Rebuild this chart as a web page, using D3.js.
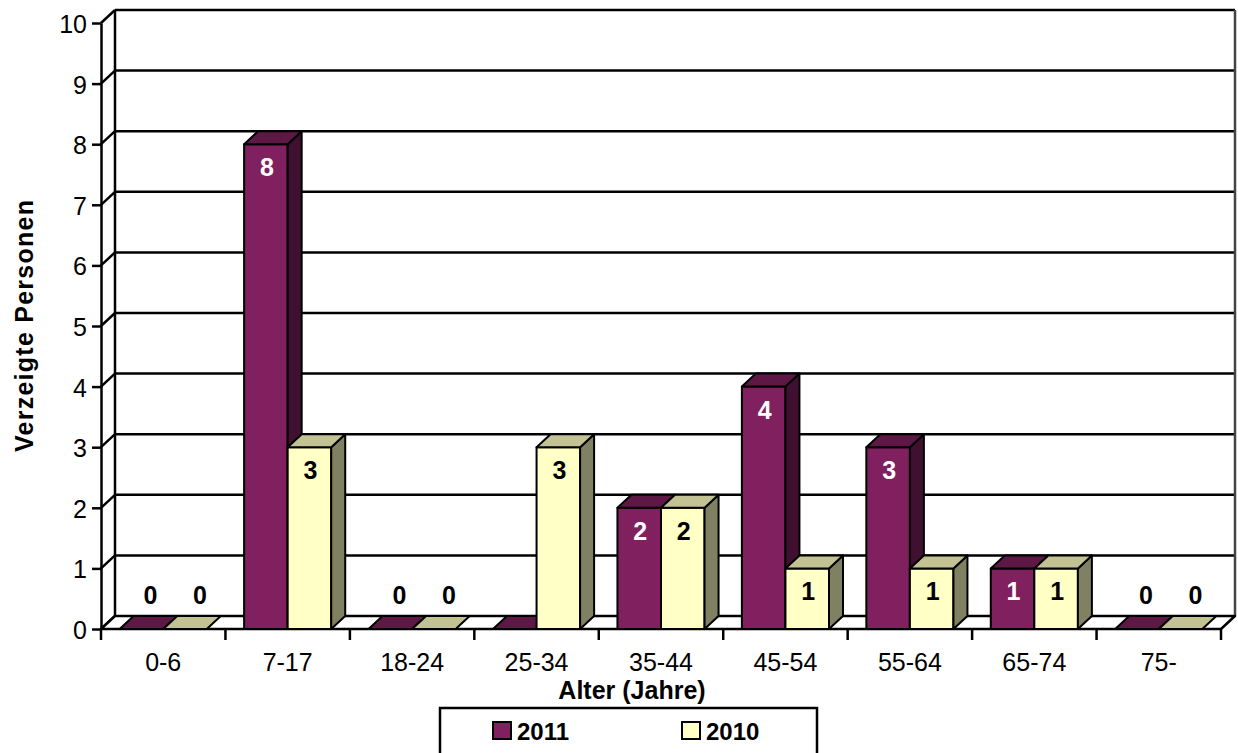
<!DOCTYPE html>
<html><head><meta charset="utf-8">
<script src="https://cdn.jsdelivr.net/npm/d3@7"></script>
<style>body{margin:0;background:#fff} svg{display:block;font-family:"Liberation Sans",Arial,sans-serif}</style>
</head><body><svg id="c" width="1238" height="753"></svg>
<script>
const categories = ["0-6","7-17","18-24","25-34","35-44","45-54","55-64","65-74","75-"];
const values2011 = [0,8,0,null,2,4,3,1,0];
const values2010 = [0,3,0,3,2,1,1,1,0];
const seriesNames = ["2011","2010"];
const yTicks = [0,1,2,3,4,5,6,7,8,9,10];
const xTitle = "Alter (Jahre)";
const yTitle = "Verzeigte Personen";

const seriesValues = [values2011, values2010];
const colors = [
  {front:"#80205F", top:"#5E1846", side:"#3F1030", label:"#fff"},
  {front:"#FFFFC6", top:"#C2C294", side:"#808062", label:"#000"}
];
const zeroShift = [9, 15];

const svg = d3.select("#c");
svg.append("rect").attr("width",1238).attr("height",753).attr("fill","#fff");

const X0 = 101, X1 = 1221, Y0 = 629, Y1 = 23;
const DX = 14, DY = -13;
const SW = 2.5;
const FS = 25;

const y = d3.scaleLinear().domain([0,10]).range([Y0,Y1]);
const x = d3.scaleBand().domain(categories).range([X0,X1]).paddingInner(0.3).paddingOuter(0.15);
const xs = d3.scaleBand().domain(seriesNames).range([0,x.bandwidth()]);
const step = x.step();

// back wall
const g = svg.append("g");
g.append("rect").attr("x",X0+DX).attr("y",Y1+DY).attr("width",X1-X0).attr("height",Y0-Y1).attr("fill","#fff");
yTicks.forEach(t=>{
  if (t>0) {
    g.append("line").attr("x1",X0+DX).attr("x2",X1+DX).attr("y1",y(t)+DY).attr("y2",y(t)+DY)
      .attr("stroke","#000").attr("stroke-width",SW);
  }
  g.append("line").attr("x1",X0).attr("x2",X0+DX).attr("y1",y(t)).attr("y2",y(t)+DY)
    .attr("stroke","#000").attr("stroke-width",SW);
});
g.append("line").attr("x1",X0+DX).attr("x2",X0+DX).attr("y1",Y1+DY).attr("y2",Y0+DY).attr("stroke","#000").attr("stroke-width",SW);
g.append("line").attr("x1",X1+DX).attr("x2",X1+DX).attr("y1",Y1+DY).attr("y2",Y0+DY).attr("stroke","#444").attr("stroke-width",SW);
g.append("polygon").attr("points",[[X0,Y0],[X1,Y0],[X1+DX,Y0+DY],[X0+DX,Y0+DY]].map(p=>p.join(",")).join(" "))
  .attr("fill","#fff").attr("stroke","#000").attr("stroke-width",SW).attr("stroke-linejoin","round");

// bars
const bars = svg.append("g").attr("stroke","#000").attr("stroke-width",2).attr("stroke-linejoin","round");
const pts = a=>a.map(p=>p.join(",")).join(" ");
categories.forEach((c,i)=>{
  seriesNames.forEach((s,k)=>{
    const raw = seriesValues[k][i];
    const v = raw==null?0:raw;
    const xa = x(c)+xs(s), xb = xa+xs.bandwidth(), top = y(v);
    if (v>0) {
      bars.append("rect").attr("x",xa).attr("y",top).attr("width",xb-xa).attr("height",Y0-top).attr("fill",colors[k].front);
      bars.append("polygon").attr("points",pts([[xb,top],[xb+DX,top+DY],[xb+DX,Y0+DY],[xb,Y0]])).attr("fill",colors[k].side);
    }
    bars.append("polygon").attr("points",pts([[xa,top],[xa+DX,top+DY],[xb+DX,top+DY],[xb,top]])).attr("fill",colors[k].top);
  });
});

// data labels
const labels = svg.append("g").attr("font-size",FS).attr("font-weight","bold").attr("text-anchor","middle");
categories.forEach((c,i)=>{
  seriesNames.forEach((s,k)=>{
    const raw = seriesValues[k][i];
    if (raw==null) return;
    const xc = x(c)+xs(s)+xs.bandwidth()/2;
    if (raw>0) {
      labels.append("text").attr("x",xc+1).attr("y",y(raw)+32).attr("fill",colors[k].label).text(raw);
    } else {
      labels.append("text").attr("x",xc+zeroShift[k]).attr("y",Y0-25).attr("fill","#000").text(raw);
    }
  });
});

// y axis
const yAxis = svg.append("g").attr("transform",`translate(${X0},0)`)
  .call(d3.axisLeft(y).tickValues(yTicks).tickSize(9).tickSizeOuter(0).tickPadding(5));
yAxis.select(".domain").attr("stroke","#000").attr("stroke-width",SW);
yAxis.selectAll(".tick line").attr("stroke","#000").attr("stroke-width",SW);
yAxis.selectAll(".tick text").attr("font-size",FS).attr("font-family","Liberation Sans, Arial, sans-serif").attr("fill","#000").attr("dy","0.38em");

// x ticks and labels
const xg = svg.append("g");
d3.range(categories.length+1).forEach(j=>{
  const xx = X0 + j*step;
  xg.append("line").attr("x1",xx).attr("x2",xx).attr("y1",Y0).attr("y2",Y0+11).attr("stroke","#000").attr("stroke-width",SW);
});
categories.forEach(c=>{
  xg.append("text").attr("x",x(c)+x.bandwidth()/2).attr("y",671).attr("text-anchor","middle").attr("font-size",FS).text(c);
});

// titles
svg.append("text").attr("x",632).attr("y",699).attr("text-anchor","middle").attr("font-size",FS).attr("font-weight","bold").text(xTitle);
svg.append("text").attr("transform","translate(33,326) rotate(-90)").attr("text-anchor","middle").attr("font-size",FS).attr("font-weight","bold")
  .attr("textLength",252).attr("lengthAdjust","spacing").text(yTitle);

// legend
const lg = svg.append("g");
lg.append("rect").attr("x",440).attr("y",708).attr("width",377).attr("height",52).attr("fill","#fff").attr("stroke","#000").attr("stroke-width",SW);
const legX = [493, 682];
seriesNames.forEach((s,k)=>{
  lg.append("rect").attr("x",legX[k]).attr("y",722).attr("width",18).attr("height",17).attr("fill",colors[k].front).attr("stroke","#000").attr("stroke-width",2);
  lg.append("text").attr("x",legX[k]+24).attr("y",740).attr("font-size",24).attr("font-weight","bold").text(s);
});
</script></body></html>
